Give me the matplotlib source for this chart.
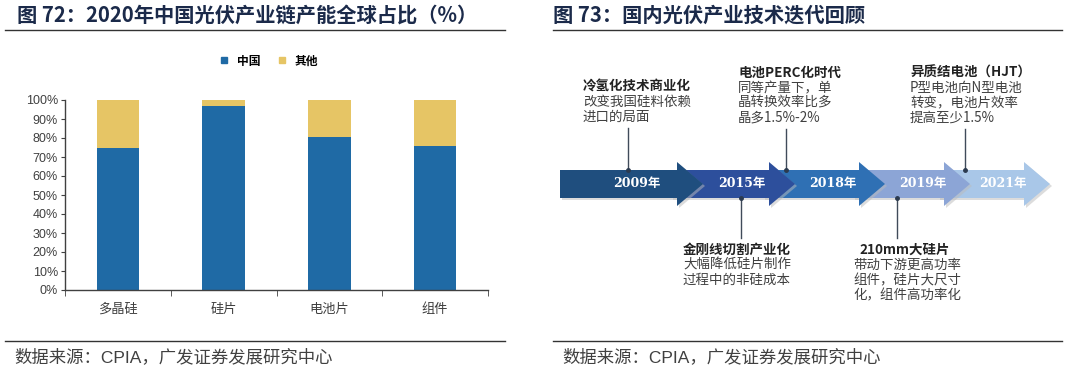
import numpy as np
import matplotlib
matplotlib.use("Agg")
import matplotlib.pyplot as plt
from matplotlib.patches import Polygon
from matplotlib.lines import Line2D

plt.rcParams['font.family'] = ['Noto Sans CJK SC', 'DejaVu Sans']

# ---- data: left chart ----
categories = ['多晶硅', '硅片', '电池片', '组件']
china = [75, 97, 80.5, 76]
other = [25, 3, 19.5, 24]
yticks = [0, 10, 20, 30, 40, 50, 60, 70, 80, 90, 100]

# ---- data: right timeline ----
years = ['2009年', '2015年', '2018年', '2019年', '2021年']
year_colors = ['#1F4E7E', '#2D4F9C', '#2F70B4', '#8CA5D6', '#A9C7E8']
notes_top = [
    ('冷氢化技术商业化', ['改变我国硅料依赖', '进口的局面']),
    ('电池PERC化时代', ['同等产量下，单', '晶转换效率比多', '晶多1.5%-2%']),
    ('异质结电池（HJT）', ['P型电池向N型电池', '转变，电池片效率', '提高至少1.5%']),
]
notes_bottom = [
    ('金刚线切割产业化', ['大幅降低硅片制作', '过程中的非硅成本']),
    ('210mm大硅片', ['带动下游更高功率', '组件，硅片大尺寸', '化，组件高功率化']),
]

W, H = 1080, 381
fig = plt.figure(figsize=(W / 100, H / 100), dpi=100)
fig.patch.set_facecolor('white')

navy = '#1B2A4A'
grey = '#404040'
mixed = ['Liberation Sans', 'Noto Sans CJK SC']

# ---------------- left: stacked bars ----------------
ax = fig.add_axes([65 / W, 1 - 290 / H, 423 / W, 190 / H])
x = np.arange(len(categories))
ax.bar(x, china, width=0.4, color='#1F6AA5', zorder=2)
ax.bar(x, other, width=0.4, bottom=china, color='#E6C565', zorder=2)
ax.set_xlim(-0.5, len(categories) - 0.5)
ax.set_ylim(0, 100)
ax.set_yticks(yticks)
ax.set_yticklabels([f'{v}%' for v in yticks], family=mixed, fontsize=9, color=grey)
ax.set_xticks(x)
ax.set_xticklabels(categories, fontsize=9.5, color=grey)
ax.set_xticks(np.arange(-0.5, len(categories)), minor=True)
ax.tick_params(axis='x', which='major', length=0, pad=9)
ax.tick_params(axis='x', which='minor', length=4, direction='out', color=grey)
ax.tick_params(axis='y', length=3, direction='out', color=grey, pad=2)
for s in ['top', 'right']:
    ax.spines[s].set_visible(False)
for s in ['left', 'bottom']:
    ax.spines[s].set_color(grey)
    ax.spines[s].set_linewidth(1)

handles = [Line2D([], [], marker='s', linestyle='', markersize=4.5, color=c)
           for c in ['#1F6AA5', '#E6C565']]
fig.legend(handles, ['中国', '其他'], loc='center', bbox_to_anchor=(265 / W, 1 - 61 / H),
           ncol=2, frameon=False, handletextpad=0.1, columnspacing=0.8,
           prop={'size': 8.5, 'weight': 'bold'})

# ---------------- overlay in pixel coordinates ----------------
ov = fig.add_axes([0, 0, 1, 1], zorder=5)
ov.set_xlim(0, W)
ov.set_ylim(H, 0)
ov.axis('off')
ov.patch.set_alpha(0)

# titles and rules
ov.text(17, 15, '图 72：2020年中国光伏产业链产能全球占比（%）', fontsize=14.6, fontweight='bold',
        color=navy, va='center', ha='left')
ov.text(553, 15, '图 73：国内光伏产业技术迭代回顾', fontsize=14.6, fontweight='bold',
        color=navy, va='center', ha='left')
for x0, x1 in [(5, 505), (553, 1062)]:
    ov.plot([x0, x1], [29.5, 29.5], color='#333333', lw=1)
    ov.plot([x0, x1], [341, 341], color='#333333', lw=1)
    ov.text(x0 + 9, 357, '数据来源：CPIA，广发证券发展研究中心', family=mixed,
            fontsize=12.5, color=grey, va='center', ha='left')

# timeline arrows
tips = [703, 795, 885, 970, 1050]
head = 26
ymid, body_h, head_h = 184, 14, 22
start = 560
label_x = [637, 742, 833, 923, 1003]
for i, (yr, col) in enumerate(zip(years, year_colors)):
    xt = tips[i]
    xb = xt - head
    pts = [(start, ymid - body_h), (xb, ymid - body_h), (xb, ymid - head_h),
           (xt, ymid), (xb, ymid + head_h), (xb, ymid + body_h), (start, ymid + body_h)]
    # soft shadow
    sh = Polygon([(px + 2, py + 2) for px, py in pts], closed=True, facecolor='#BBBBBB',
                 edgecolor='none', alpha=0.5, zorder=10 - i)
    ov.add_patch(sh)
    ov.add_patch(Polygon(pts, closed=True, facecolor=col, edgecolor='none', zorder=10.5 - i))
    ov.text(label_x[i], ymid, yr, color='white', fontsize=9, fontweight='bold',
            ha='center', va='center', zorder=20, family=['DejaVu Serif', 'Noto Sans CJK SC'])
    start = xb - 6

# annotations above the timeline
top_x = [583, 738, 910]
top_line = [628, 786, 965]
top_y0 = [87, 73, 73]
for (head_txt, lines), tx, lx, ty in zip(notes_top, top_x, top_line, top_y0):
    ov.text(tx, ty, head_txt, fontsize=9.7, fontweight='bold', color='#222222',
            ha='left', va='center', zorder=20)
    for k, ln in enumerate(lines):
        ov.text(tx, ty + 15 * (k + 1), ln, fontsize=9.7, color=grey,
                ha='left', va='center', zorder=20)
    ov.plot([lx, lx], [ty + 15 * len(lines) + 11, 170], color='#404B5A', lw=1, zorder=20)
    ov.plot(lx, 170, marker='o', markersize=2.5, color='#2B3A4F', zorder=21)

# annotations below the timeline
bot_line = [741, 897]
bot_x = [737, 853]
bot_ha = ['center', 'left']
for (head_txt, lines), lx, tx, ha in zip(notes_bottom, bot_line, bot_x, bot_ha):
    ov.plot([lx, lx], [198, 238], color='#404B5A', lw=1, zorder=20)
    ov.plot(lx, 198, marker='o', markersize=2.5, color='#2B3A4F', zorder=21)
    hx = tx if ha == 'center' else 905
    ov.text(hx, 250, head_txt, fontsize=9.7, fontweight='bold', color='#222222',
            ha='center', va='center', zorder=20)
    for k, ln in enumerate(lines):
        ov.text(tx, 250 + 15 * (k + 1), ln, fontsize=9.7, color=grey,
                ha=ha, va='center', zorder=20)

fig.savefig('out.png', dpi=100, facecolor='white')
